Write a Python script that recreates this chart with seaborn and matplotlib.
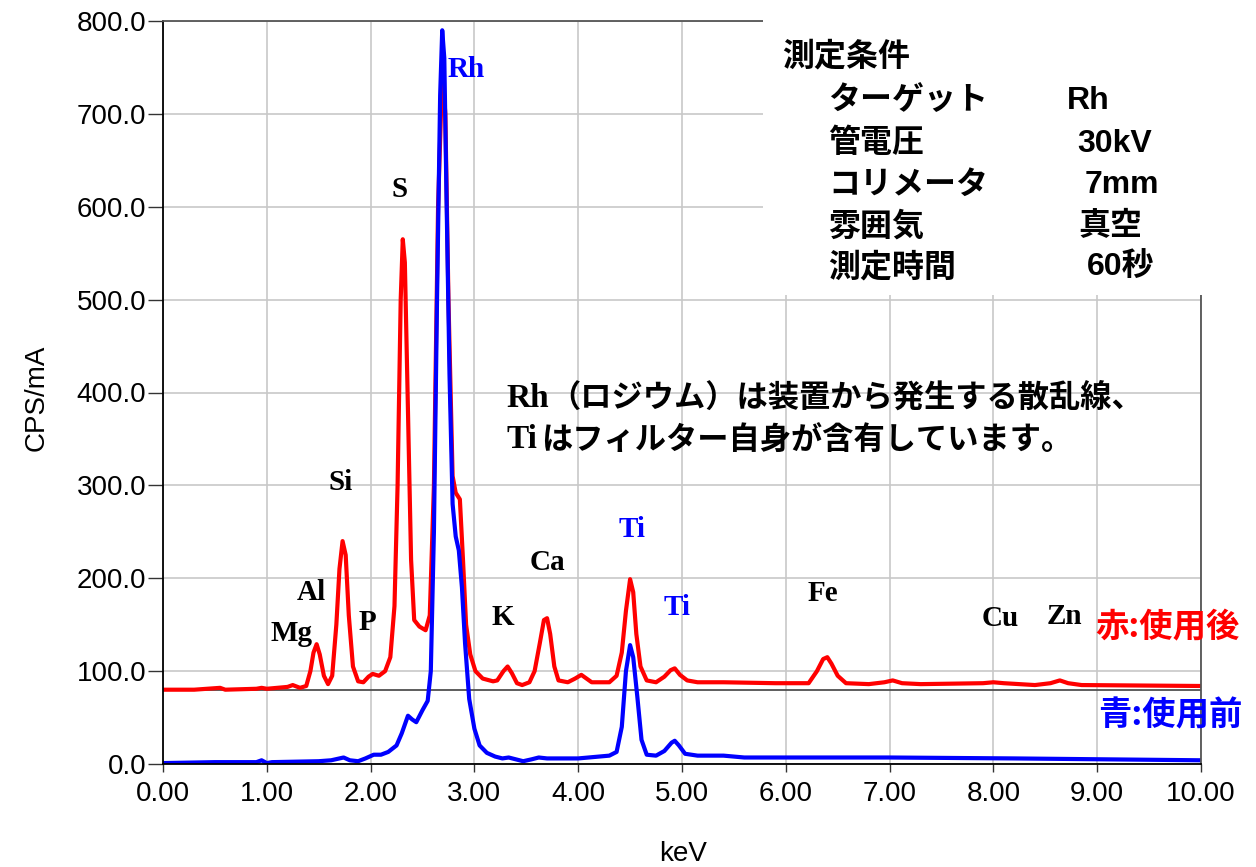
import numpy as np
import pandas as pd
import matplotlib
matplotlib.use("Agg")
import matplotlib.pyplot as plt
import matplotlib.patches as mpatches
import seaborn as sns

# spectrum: keV / CPS per mA
red_kev = [0.00, 0.30, 0.55, 0.60, 0.90, 0.95, 1.00, 1.20, 1.25, 1.32, 1.38, 1.42, 1.45, 1.48,
           1.51, 1.55, 1.59, 1.63, 1.67, 1.70, 1.73, 1.76, 1.79, 1.83, 1.88, 1.93, 1.98, 2.02,
           2.08, 2.14, 2.19, 2.23, 2.26, 2.29, 2.31, 2.33, 2.36, 2.39, 2.42, 2.47, 2.53, 2.57,
           2.61, 2.65, 2.69, 2.72, 2.75, 2.79, 2.82, 2.86, 2.89, 2.92, 2.96, 3.01, 3.08, 3.18,
           3.22, 3.28, 3.32, 3.36, 3.41, 3.46, 3.53, 3.58, 3.63, 3.67, 3.70, 3.73, 3.77, 3.81,
           3.90, 3.97, 4.03, 4.08, 4.13, 4.30, 4.37, 4.42, 4.46, 4.50, 4.53, 4.56, 4.60, 4.66,
           4.75, 4.83, 4.89, 4.93, 4.98, 5.05, 5.15, 5.40, 5.90, 6.22, 6.30, 6.36, 6.40, 6.44,
           6.50, 6.58, 6.80, 6.95, 7.03, 7.12, 7.30, 7.90, 8.00, 8.10, 8.40, 8.55, 8.64, 8.72,
           8.85, 10.00]
red_cps = [80, 80, 82, 80, 81, 82, 81, 83, 85, 82, 84, 100, 120, 129,
           118, 95, 86, 95, 150, 210, 240, 225, 160, 105, 89, 88, 94, 97,
           95, 100, 115, 170, 300, 500, 565, 540, 380, 220, 155, 148, 144, 160,
           300, 600, 745, 700, 500, 310, 292, 285, 220, 150, 118, 100, 92, 89,
           90, 100, 105, 98, 87, 85, 88, 100, 130, 155, 157, 140, 105, 90,
           88, 92, 96, 92, 88, 88, 95, 120, 165, 199, 185, 140, 105, 90,
           88, 94, 101, 103, 96, 90, 88, 88, 87, 87, 100, 113, 115, 108,
           95, 87, 86, 88, 90, 87, 86, 87, 88, 87, 85, 87, 90, 87,
           85, 84]

blue_kev = [0.00, 0.50, 0.90, 0.95, 1.00, 1.05, 1.50, 1.62, 1.70, 1.74, 1.80, 1.88, 1.95, 2.03,
            2.10, 2.17, 2.25, 2.30, 2.36, 2.40, 2.44, 2.50, 2.55, 2.58, 2.61, 2.64, 2.67, 2.69,
            2.71, 2.73, 2.76, 2.79, 2.82, 2.85, 2.88, 2.91, 2.95, 3.00, 3.05, 3.12, 3.20, 3.27,
            3.33, 3.40, 3.47, 3.55, 3.62, 3.70, 4.00, 4.30, 4.37, 4.42, 4.46, 4.50, 4.53, 4.57,
            4.61, 4.66, 4.75, 4.83, 4.90, 4.93, 4.97, 5.03, 5.15, 5.40, 5.60, 7.00, 8.20, 10.00]
blue_cps = [1, 2, 2, 4, 1, 2, 3, 4, 6, 7, 4, 3, 6, 10,
            10, 13, 20, 33, 52, 48, 45, 58, 68, 100, 250, 500, 720, 790,
            760, 620, 420, 280, 245, 230, 190, 130, 70, 38, 20, 12, 8, 6,
            7, 5, 3, 5, 7, 6, 6, 9, 13, 40, 100, 128, 115, 72,
            26, 10, 9, 14, 23, 25, 20, 11, 9, 9, 7, 7, 6, 4]

# element labels: name, keV, CPS, colour
elem_names = ["Rh", "S", "Si", "Al", "Mg", "P", "K", "Ca", "Ti", "Ti", "Fe", "Cu", "Zn"]
elem_x = [2.74, 2.28, 1.71, 1.43, 1.24, 1.97, 3.27, 3.70, 4.52, 4.95, 6.36, 8.07, 8.68]
elem_y = [748, 619, 303, 185, 141, 152, 158, 217, 252, 168, 184, 157, 159]
elem_col = ["blue", "k", "k", "k", "k", "k", "k", "k", "blue", "blue", "k", "k", "k"]

cond_names = ["ターゲット", "管電圧", "コリメータ", "雰囲気", "測定時間"]
cond_values = ["Rh", "30kV", "7mm", "真空", "60秒"]
cond_value_x = [8.71, 8.81, 8.88, 8.82, 8.90]
cond_y = [714, 668, 623, 578, 534]

# note lines: latin head, japanese rest, y position
note_head = ["Rh", "Ti"]
note_rest = ["（ロジウム）は装置から発生する散乱線、", "はフィルター自身が含有しています。"]
note_rest_x = [3.72, 3.64]
note_y = [394, 349]

df = pd.concat([
    pd.DataFrame({"keV": red_kev, "CPS": red_cps, "sample": "after"}),
    pd.DataFrame({"keV": blue_kev, "CPS": blue_cps, "sample": "before"}),
])

sns.set_style("white")
plt.rcParams['font.family'] = ['Liberation Sans', 'Noto Sans CJK JP']
plt.rcParams['text.color'] = 'black'
plt.rcParams['axes.labelcolor'] = 'black'
plt.rcParams['xtick.color'] = 'black'
plt.rcParams['ytick.color'] = 'black'

fig = plt.figure(figsize=(12.56, 8.67), dpi=100)
ax = fig.add_axes([163 / 1256, 103 / 867, 1038 / 1256, 743 / 867])

sns.lineplot(data=df, x="keV", y="CPS", hue="sample", palette={"after": "#ff0000", "before": "#0000ff"},
             linewidth=3, sort=False, estimator=None, legend=False, ax=ax, zorder=2)
ax.axhline(80, color="#505050", lw=1.3, zorder=1.5)

ax.set_xlim(0, 10)
ax.set_ylim(0, 800)
ax.set_xticks(np.arange(0, 11, 1))
ax.set_yticks(np.arange(0, 801, 100))
ax.xaxis.set_major_formatter(matplotlib.ticker.FormatStrFormatter("%.2f"))
ax.yaxis.set_major_formatter(matplotlib.ticker.FormatStrFormatter("%.1f"))
ax.grid(True, color="#c8c8c8", lw=1.2)
ax.set_axisbelow(True)
ax.tick_params(axis="x", direction="out", length=6, width=1, color="#333333", labelcolor="black",
               labelsize=20, pad=6, bottom=True)
ax.tick_params(axis="y", direction="out", length=11, width=1, color="#333333", labelcolor="black",
               labelsize=20, pad=1, left=True)
for side in ["left", "bottom"]:
    ax.spines[side].set_color("black")
    ax.spines[side].set_linewidth(1.3)
for side in ["top", "right"]:
    ax.spines[side].set_color("#555555")
    ax.spines[side].set_linewidth(1.3)

ax.set_xlabel("keV", fontsize=20, color="black")
ax.set_ylabel("CPS/mA", fontsize=20, color="black")
ax.xaxis.set_label_coords(0.501, -0.104)
ax.yaxis.set_label_coords(-0.109, 0.493)

# element labels
for name, x, y, c in zip(elem_names, elem_x, elem_y, elem_col):
    ha = "left" if name == "Rh" else "center"
    ax.text(x, y, name, color=c, fontsize=21, fontweight="bold", family="Liberation Serif",
            ha=ha, va="center", zorder=4)

# note
for head, rest, rx, y in zip(note_head, note_rest, note_rest_x, note_y):
    ax.text(3.31, y, head, fontsize=24, fontweight="bold", family="Liberation Serif",
            color="black", ha="left", va="center", zorder=4)
    ax.text(rx, y, rest, fontsize=22.5, fontweight="bold", family=['Noto Sans CJK JP'],
            color="black", ha="left", va="center", zorder=4)

# measurement conditions box (white, covers grid and frame)
box = mpatches.Rectangle((5.78, 505), 4.4, 340, facecolor="white", edgecolor="none",
                         clip_on=False, zorder=3)
ax.add_patch(box)
ax.text(5.96, 761, "測定条件", fontsize=23, fontweight="bold", color="black",
        ha="left", va="center", zorder=4)
for name, val, vx, y in zip(cond_names, cond_values, cond_value_x, cond_y):
    ax.text(6.41, y, name, fontsize=23, fontweight="bold", color="black", ha="left", va="center", zorder=4)
    ax.text(vx, y, val, fontsize=23, fontweight="bold", color="black", ha="left", va="center", zorder=4)

# series legend text
ax.text(8.98, 147, "赤:使用後", color="#ff0000", fontsize=24, fontweight="bold",
        family=['Noto Sans CJK JP'], ha="left", va="center", zorder=4)
ax.text(9.01, 52, "青:使用前", color="#0000ff", fontsize=24, fontweight="bold",
        family=['Noto Sans CJK JP'], ha="left", va="center", zorder=4)

fig.savefig("out.png", dpi=100)
